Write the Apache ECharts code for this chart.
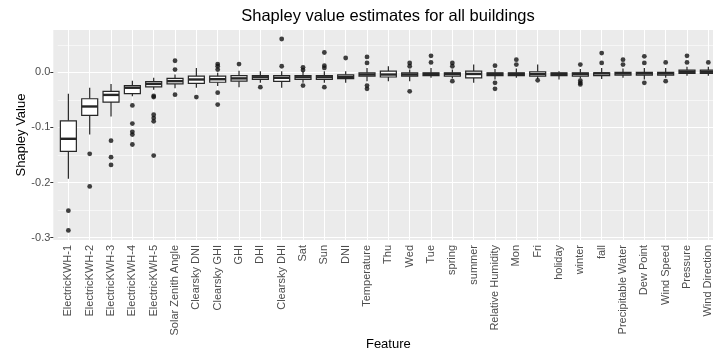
<!DOCTYPE html>
<html><head><meta charset="utf-8">
<script src="https://cdn.jsdelivr.net/npm/echarts@6/dist/echarts.min.js"></script>
<style>html,body{margin:0;padding:0;background:#fff}#c{width:713px;height:357px}</style>
</head><body><div id="c"></div>
<script>
const categories = ['ElectricKWH-1','ElectricKWH-2','ElectricKWH-3','ElectricKWH-4','ElectricKWH-5',
  'Solar Zenith Angle','Clearsky DNI','Clearsky GHI','GHI','DHI','Clearsky DHI','Sat','Sun','DNI',
  'Temperature','Thu','Wed','Tue','spring','summer','Relative Humidity','Mon','Fri','holiday',
  'winter','fall','Precipitable Water','Dew Point','Wind Speed','Pressure','Wind Direction'];
const whiskerLow  = [-0.193,-0.113,-0.080,-0.0436,-0.0315,-0.029,-0.028,-0.025,-0.027,-0.019,-0.028,-0.019,-0.019,-0.019,
  -0.016,-0.016,-0.016,-0.010,-0.011,-0.019,-0.013,-0.010,-0.012,-0.013,-0.011,-0.012,-0.010,-0.013,-0.010,-0.006,-0.006];
const q1          = [-0.1436,-0.078,-0.054,-0.0385,-0.0265,-0.021,-0.020,-0.018,-0.016,-0.013,-0.0164,-0.013,-0.013,-0.0115,
  -0.007,-0.0085,-0.007,-0.006,-0.007,-0.010,-0.006,-0.006,-0.007,-0.006,-0.007,-0.006,-0.005,-0.005,-0.005,-0.002,-0.002];
const median      = [-0.1206,-0.062,-0.041,-0.028,-0.021,-0.016,-0.013,-0.0125,-0.011,-0.009,-0.010,-0.009,-0.009,-0.0085,
  -0.004,-0.004,-0.004,-0.003,-0.003,-0.003,-0.003,-0.003,-0.003,-0.003,-0.003,-0.002,-0.002,-0.002,-0.002,0.001,0.001];
const q3          = [-0.088,-0.048,-0.0345,-0.024,-0.0168,-0.011,-0.007,-0.007,-0.006,-0.006,-0.006,-0.006,-0.006,-0.0045,
  -0.001,0.002,-0.001,-0.001,-0.001,0.002,-0.001,-0.001,0.001,-0.001,-0.001,-0.001,0.000,0.000,0.000,0.004,0.004];
const whiskerHigh = [-0.039,-0.028,-0.021,-0.0155,-0.010,-0.004,0.008,-0.001,0.003,0.002,0.002,0.002,0.002,0.002,
  0.008,0.011,0.005,0.008,0.005,0.014,0.006,0.007,0.014,0.002,0.006,0.008,0.007,0.008,0.008,0.010,0.010];
const outliers = [
  [-0.251,-0.287],
  [-0.148,-0.207],
  [-0.124,-0.154,-0.168],
  [-0.060,-0.093,-0.108,-0.113,-0.131],
  [-0.043,-0.045,-0.077,-0.083,-0.089,-0.151],
  [0.021,0.005,-0.0405],
  [-0.045],
  [0.015,0.011,0.005,-0.037,-0.0585],
  [0.015],
  [-0.027],
  [0.0605,0.011],
  [0.009,0.004,-0.024],
  [0.036,0.012,0.008,-0.027],
  [0.026],
  [0.028,0.017,-0.024,-0.030],
  [],
  [0.017,0.011,-0.0345],
  [0.030,0.018],
  [0.017,0.011,-0.016],
  [],
  [0.012,-0.019,-0.030],
  [0.023,0.014],
  [-0.0145],
  [],
  [0.014,-0.015,-0.019,-0.022],
  [0.035,0.017],
  [0.023,0.014],
  [0.029,0.017,-0.019],
  [0.018,-0.016],
  [0.030,0.018],
  [0.018]
];
const yTicks = [-0.3,-0.2,-0.1,0.0];
const yMinorTicks = [-0.25,-0.15,-0.05,0.05];

const boxData = categories.map((c,i)=>[i, whiskerLow[i], q1[i], median[i], q3[i], whiskerHigh[i]]);
const outlierData = [];
outliers.forEach((arr,i)=>arr.forEach(v=>outlierData.push([categories[i], v])));

const FONT = '"Liberation Sans", Arial, Helvetica, sans-serif';
const LINE = '#262626';
const chart = echarts.init(document.getElementById('c'), null, {renderer:'canvas'});

function renderBox(params, api){
  const i = api.value(0);
  const lo = api.coord([i, api.value(1)]);
  const a = api.coord([i, api.value(2)]);
  const m = api.coord([i, api.value(3)]);
  const b = api.coord([i, api.value(4)]);
  const hi = api.coord([i, api.value(5)]);
  const cx = m[0];
  const bw = api.size([1, 0])[0] * 0.75;
  const st = {stroke:LINE, lineWidth:1.2, fill:null};
  return {type:'group', children:[
    {type:'line', shape:{x1:cx, y1:lo[1], x2:cx, y2:a[1]}, style:st},
    {type:'line', shape:{x1:cx, y1:b[1], x2:cx, y2:hi[1]}, style:st},
    {type:'rect', shape:{x:cx-bw/2, y:b[1], width:bw, height:a[1]-b[1]}, style:{fill:'#ffffff', stroke:LINE, lineWidth:1.2}},
    {type:'line', shape:{x1:cx-bw/2, y1:m[1], x2:cx+bw/2, y2:m[1]}, style:{stroke:LINE, lineWidth:2.4}}
  ]};
}

chart.setOption({
  animation:false,
  backgroundColor:'#ffffff',
  title:{text:'Shapley value estimates for all buildings', left:383, top:3, textAlign:'center',
    textStyle:{fontFamily:FONT, fontSize:16.5, fontWeight:'normal', color:'#000'}},
  grid:{left:57.7, width:661.3, top:30, height:210, show:true, backgroundColor:'#EBEBEB', borderWidth:0,
    containLabel:false, outerBoundsMode:'none'},
  graphic:[{type:'rect', left:53.3, top:30, shape:{width:5, height:210}, style:{fill:'#EBEBEB'}, z:-10, silent:true}],
  xAxis:{type:'category', data:categories, boundaryGap:true,
    axisLine:{show:false},
    axisTick:{show:true, alignWithLabel:true, length:3, lineStyle:{color:'#333', width:1}},
    axisLabel:{interval:0, rotate:90, fontSize:11, color:'#4D4D4D', margin:5, fontFamily:FONT},
    splitLine:{show:false},
    name:'Feature', nameLocation:'middle', nameGap:98, nameMoveOverlap:false,
    nameTextStyle:{fontFamily:FONT, fontSize:13, color:'#000'}},
  yAxis:{type:'value', min:-0.3043, max:0.0768, offset:4.4,
    axisLine:{show:false},
    axisTick:{show:true, length:3, customValues:yTicks, lineStyle:{color:'#333', width:1}},
    axisLabel:{customValues:yTicks, formatter:v=>v.toFixed(1), fontSize:11, color:'#4D4D4D', margin:3, fontFamily:FONT},
    splitLine:{show:false},
    name:'Shapley Value', nameLocation:'middle', nameGap:25, nameMoveOverlap:false,
    nameTextStyle:{fontFamily:FONT, fontSize:13, color:'#000'}},
  series:[
    {type:'line', data:[], z:1, silent:true,
      markLine:{z:1, silent:true, symbol:['none','none'], label:{show:false}, animation:false,
        lineStyle:{color:'#ffffff', type:'solid', width:1.1},
        emphasis:{disabled:true},
        data:[].concat(
          yMinorTicks.map(v=>({yAxis:v, lineStyle:{width:0.55, color:'#ffffff', type:'solid'}})),
          yTicks.map(v=>({yAxis:v})),
          categories.map(c=>({xAxis:c}))
        )}},
    {type:'custom', data:boxData, z:3, silent:true, renderItem:renderBox,
      encode:{x:0, y:[1,2,3,4,5]}},
    {type:'scatter', data:outlierData, z:5, silent:true, symbol:'circle', symbolSize:4.8,
      itemStyle:{color:'#111111'}}
  ]
});
</script></body></html>
